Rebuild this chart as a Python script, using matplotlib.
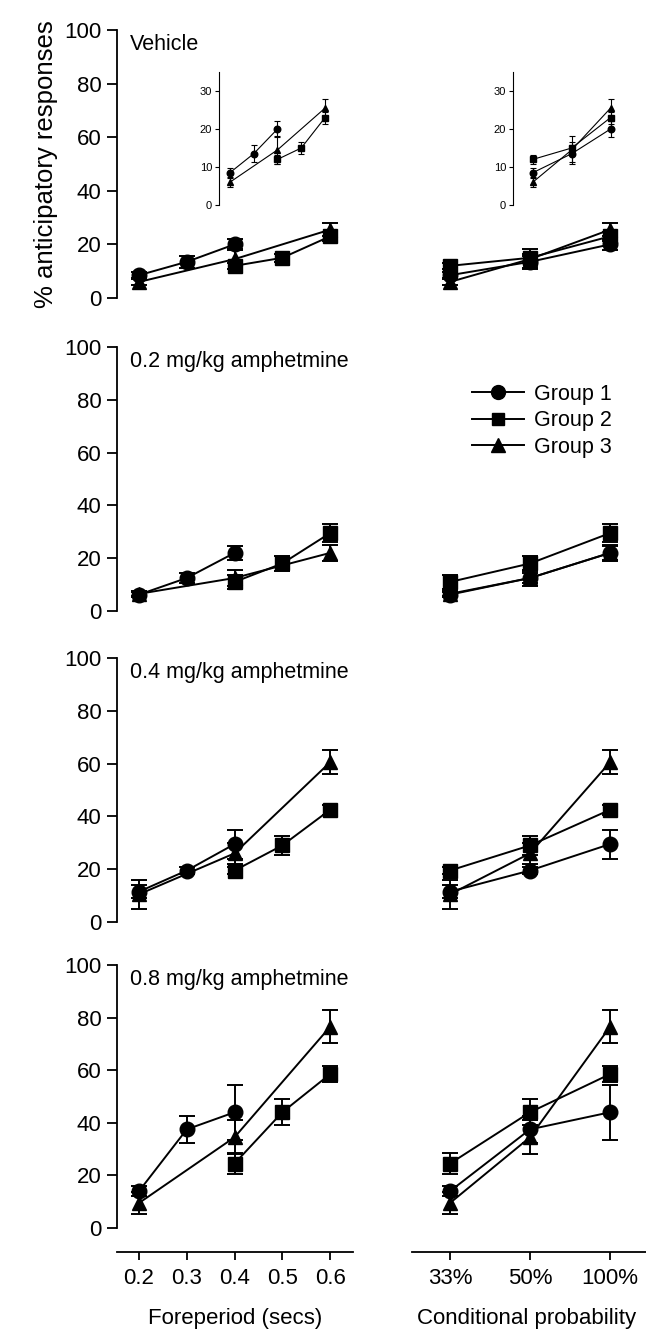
import matplotlib
matplotlib.use("Agg")
import matplotlib.pyplot as plt
from matplotlib.lines import Line2D

plt.rcParams['font.family'] = ['Liberation Sans', 'DejaVu Sans']

# foreperiods (s) each group was trained on, in order of conditional probability
fp_group1 = [0.2, 0.3, 0.4]
fp_group2 = [0.4, 0.5, 0.6]
fp_group3 = [0.2, 0.4, 0.6]
prob_labels = ['33%', '50%', '100%']
fp_ticks = [0.2, 0.3, 0.4, 0.5, 0.6]

doses = ['Vehicle', '0.2 mg/kg amphetmine', '0.4 mg/kg amphetmine', '0.8 mg/kg amphetmine']

# % anticipatory responses (mean, sem) per dose, for 33% / 50% / 100%
g1_mean = [[8.5, 13.5, 20.0], [6.2, 12.5, 22.0], [11.5, 19.5, 29.5], [14.0, 37.5, 44.0]]
g1_sem = [[1.3, 2.2, 2.0], [1.0, 2.0, 2.5], [2.5, 1.5, 5.5], [2.0, 5.0, 10.5]]
g2_mean = [[12.0, 15.0, 23.0], [11.0, 18.0, 29.5], [19.5, 29.0, 42.5], [24.5, 44.0, 58.5]]
g2_sem = [[1.2, 1.5, 1.6], [2.5, 3.0, 3.5], [1.5, 3.5, 2.0], [4.0, 5.0, 3.0]]
g3_mean = [[6.0, 14.5, 25.5], [6.5, 12.5, 22.0], [10.5, 26.0, 60.5], [9.5, 34.5, 76.5]]
g3_sem = [[1.3, 3.7, 2.5], [1.0, 3.0, 3.0], [5.5, 4.0, 4.5], [4.0, 6.5, 6.2]]

groups = [
    ('Group 1', 'o', 10.5, fp_group1, g1_mean, g1_sem),
    ('Group 2', 's', 9.5, fp_group2, g2_mean, g2_sem),
    ('Group 3', '^', 10.5, fp_group3, g3_mean, g3_sem),
]

W, H = 646, 1337
fig = plt.figure(figsize=(W / 100, H / 100), dpi=100)


def axes_px(x0, top, x1, bottom):
    return fig.add_axes([x0 / W, 1 - bottom / H, (x1 - x0) / W, (bottom - top) / H])


def draw(ax, xs, mean, sem, marker, ms, lw=1.4, cap=12, small=False):
    if small:
        ms, lw, cap = ms * 0.45, 0.8, 5
    ax.errorbar(xs, mean, yerr=sem, color='black', lw=lw, marker=marker, ms=ms,
                capsize=cap / 2, capthick=lw, elinewidth=lw, clip_on=False)


rows = [(30, 298), (347, 611), (658, 922), (965, 1228)]
tick_fs = 16

for r, (top, bottom) in enumerate(rows):
    axl = axes_px(117, top, 353, bottom)
    axr = axes_px(412, top, 646, bottom)
    for ax in (axl, axr):
        ax.set_ylim(0, 100)
        for s in ('top', 'right'):
            ax.spines[s].set_visible(False)
        ax.patch.set_visible(False)
    axl.set_xlim(0.154, 0.648)
    axr.set_xlim(-0.475, 2.45)
    axl.set_yticks(range(0, 101, 20))
    axl.tick_params(axis='y', labelsize=tick_fs, length=7, width=1.3, pad=4)
    axl.spines['left'].set_linewidth(1.3)
    axr.spines['left'].set_visible(False)
    axr.set_yticks([])

    for name, marker, ms, fps, mean, sem in groups:
        draw(axl, fps, mean[r], sem[r], marker, ms)
        draw(axr, [0, 1, 2], mean[r], sem[r], marker, ms)

    axl.text(0.055, 0.985, doses[r], transform=axl.transAxes, fontsize=15.5, va='top', ha='left')

    if r == len(rows) - 1:
        for ax in (axl, axr):
            ax.spines['bottom'].set_position(('outward', 17))
            ax.spines['bottom'].set_linewidth(1.3)
            ax.tick_params(axis='x', labelsize=tick_fs, length=6, width=1.3, pad=6)
        axl.set_xticks(fp_ticks)
        axl.set_xticklabels([str(v) for v in fp_ticks])
        axr.set_xticks([0, 1, 2])
        axr.set_xticklabels(prob_labels)
        axl.set_xlabel('Foreperiod (secs)', fontsize=16)
        axr.set_xlabel('Conditional probability', fontsize=16)
        axl.xaxis.set_label_coords(0.5, -0.305)
        axr.xaxis.set_label_coords(0.49, -0.305)
    else:
        for ax in (axl, axr):
            ax.spines['bottom'].set_visible(False)
            ax.set_xticks([])

    if r == 0:
        axl.set_ylabel('% anticipatory responses', fontsize=18.5, labelpad=5)

    if r == 1:
        handles = [Line2D([], [], color='black', lw=1.4, marker=g[1], ms=g[2] - 0.5) for g in groups]
        axr.legend(handles, [g[0] for g in groups], loc='upper left',
                   bbox_to_anchor=(472 / W, 1 - 384 / H), bbox_transform=fig.transFigure,
                   frameon=False, fontsize=15.5, handlelength=2.4, handletextpad=0.5,
                   labelspacing=0.25, borderpad=0, borderaxespad=0)

# enlarged views of the vehicle data
insl = axes_px(219, 72, 335, 205)
insr = axes_px(513, 72, 630, 205)
insl.set_xlim(0.154, 0.642)
insr.set_xlim(-0.51, 2.5)
for ax in (insl, insr):
    ax.set_ylim(0, 35)
    ax.set_yticks([0, 10, 20, 30])
    ax.tick_params(axis='y', labelsize=8, length=3, width=0.8, pad=2)
    for s in ('top', 'right', 'bottom'):
        ax.spines[s].set_visible(False)
    ax.spines['left'].set_linewidth(0.8)
    ax.set_xticks([])
    ax.patch.set_visible(False)
for name, marker, ms, fps, mean, sem in groups:
    draw(insl, fps, mean[0], sem[0], marker, ms, small=True)
    draw(insr, [0, 1, 2], mean[0], sem[0], marker, ms, small=True)

fig.savefig('out.png', dpi=100)
